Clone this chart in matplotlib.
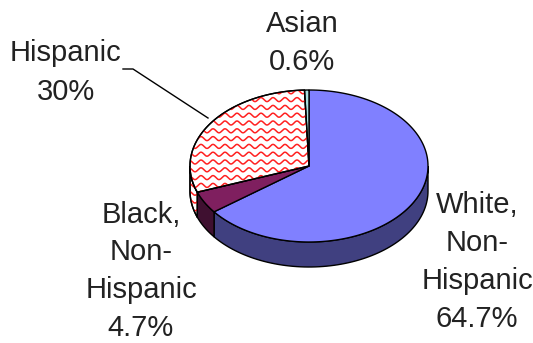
import numpy as np
import matplotlib
matplotlib.use("Agg")
import matplotlib.pyplot as plt
from matplotlib.patches import Polygon

# Population shares (percent), drawn clockwise from 12 o'clock
groups = ["White, Non-Hispanic", "Black, Non-Hispanic", "Hispanic", "Asian"]
shares = [64.7, 4.7, 30.0, 0.6]
labels = ["White,\nNon-\nHispanic\n64.7%",
          "Black,\nNon-\nHispanic\n4.7%",
          "Hispanic\n30%",
          "Asian\n0.6%"]
top_colors = ["#8080ff", "#7f1f5f", "#ffffff", "#a6dede"]
side_colors = ["#404080", "#3f1030", "#ffffff", "#6fa0a0"]
hatched = [False, False, True, False]

# label anchors: centre x and baseline of first line (pixels)
label_pos = [(477, 213), (141, 223), (66, 61), (302, 32)]
line_steps = [38, 37.5, 38.5, 38]

# pie geometry in pixels (y grows downward)
cx, cy = 309, 166
rx, ry = 119, 76
depth = 25

W, H = 533, 343
fig = plt.figure(figsize=(W / 100, H / 100), dpi=100)
ax = fig.add_axes([0, 0, 1, 1])
ax.set_xlim(0, W)
ax.set_ylim(H, 0)
ax.axis("off")


def rim(th_deg, dy=0.0):
    th = np.radians(th_deg)
    return np.column_stack([cx + rx * np.cos(th), cy - ry * np.sin(th) + dy])


def wave_fill(patch):
    # red wavy pattern clipped to a patch
    xs = np.linspace(cx - rx - 5, cx + rx + 5, 600)
    for y0 in np.arange(cy - ry - 6, cy + ry + depth + 6, 7.8):
        ln, = ax.plot(xs, y0 + 2.0 * np.sin(2 * np.pi * xs / 12.0),
                      color="#ff2020", lw=1.1, zorder=patch.get_zorder() + 0.1)
        ln.set_clip_path(patch)


# angular spans of each slice
bounds = 90 - np.cumsum([0] + shares) / 100.0 * 360
spans = [(bounds[i + 1], bounds[i]) for i in range(len(shares))]

# side walls: only the front half (180..360 degrees) is visible
for (a, b), col, hat in zip(spans, side_colors, hatched):
    a_m = a % 360
    b_m = a_m + (b - a)
    for lo_lim, hi_lim in [(180, 360), (540, 720)]:
        lo, hi = max(a_m, lo_lim), min(b_m, hi_lim)
        if hi <= lo:
            continue
        th = np.linspace(lo, hi, 80)
        pts = np.vstack([rim(th), rim(th[::-1], depth)])
        p = Polygon(pts, closed=True, facecolor=col, edgecolor="black",
                    lw=1.0, zorder=2)
        ax.add_patch(p)
        if hat:
            wave_fill(p)
            ax.add_patch(Polygon(pts, closed=True, fill=False,
                                 edgecolor="black", lw=1.0, zorder=2.5))

# top faces
for (a, b), col, hat in zip(spans, top_colors, hatched):
    th = np.linspace(a, b, 200)
    pts = np.vstack([[cx, cy], rim(th)])
    p = Polygon(pts, closed=True, facecolor=col, edgecolor="black",
                lw=1.0, zorder=3)
    ax.add_patch(p)
    if hat:
        wave_fill(p)
        ax.add_patch(Polygon(pts, closed=True, fill=False,
                             edgecolor="black", lw=1.0, zorder=3.5))

# leader line for the Hispanic label
ax.plot([123, 133, 208], [69, 69, 118], color="black", lw=1.0, zorder=4)

# labels, one line at a time
for text, (x, y), step in zip(labels, label_pos, line_steps):
    for i, line in enumerate(text.split("\n")):
        ax.text(x, y + i * step, line, ha="center", va="baseline",
                fontsize=21, family="Liberation Sans", color="#222222",
                zorder=5)

fig.savefig("out.png", dpi=100)
